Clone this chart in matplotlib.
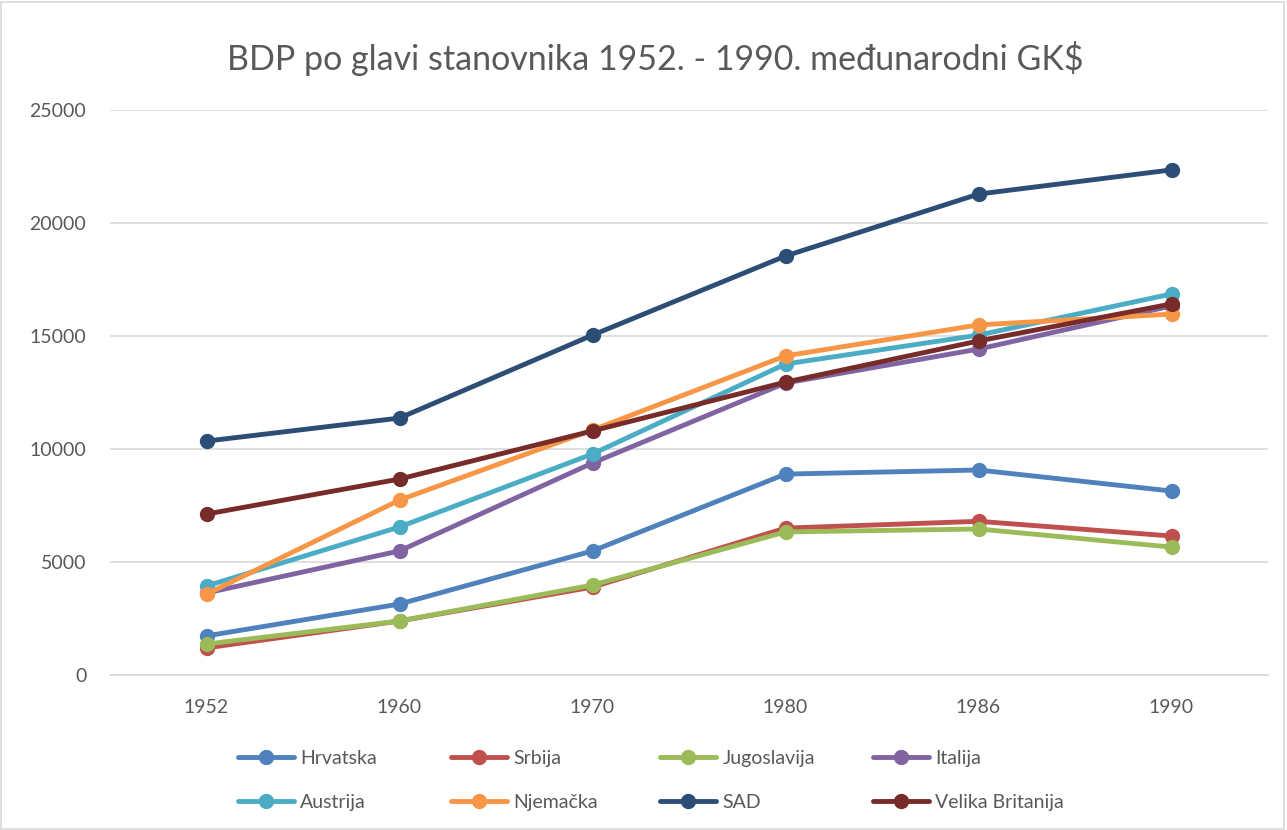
import matplotlib
matplotlib.use("Agg")
import matplotlib.pyplot as plt
from matplotlib.patches import Rectangle

years = ["1952", "1960", "1970", "1980", "1986", "1990"]
names = ["Hrvatska", "Srbija", "Jugoslavija", "Italija",
         "Austrija", "Njemačka", "SAD", "Velika Britanija"]
hrvatska = [1730, 3140, 5490, 8890, 9070, 8140]
srbija = [1200, 2390, 3890, 6500, 6800, 6150]
jugoslavija = [1370, 2390, 3980, 6330, 6460, 5660]
italija = [3630, 5490, 9380, 12920, 14420, 16330]
austrija = [3940, 6550, 9780, 13760, 15040, 16860]
njemacka = [3580, 7740, 10840, 14120, 15490, 15970]
sad = [10350, 11370, 15040, 18540, 21280, 22350]
vb = [7120, 8670, 10800, 12960, 14780, 16420]
series = [hrvatska, srbija, jugoslavija, italija, austrija, njemacka, sad, vb]
colors = ["#4F81BD", "#C0504D", "#9BBB59", "#8064A2",
          "#4BACC6", "#F79646", "#2C4D75", "#772C2A"]

plt.rcParams['font.family'] = ['Lato', 'DejaVu Sans']
W, H = 1287, 830
fig = plt.figure(figsize=(W/100, H/100), dpi=100)
ax = fig.add_axes([110/W, 1-675/H, (1268-110)/W, (675-110)/H])

x = list(range(len(years)))
handles = []
for name, vals, c in zip(names, series, colors):
    h, = ax.plot(x, vals, color=c, lw=3.5, marker='o', markersize=10,
                 solid_capstyle='round', label=name)
    handles.append(h)

ax.set_xlim(-0.5, len(years) - 0.5)
ax.set_ylim(0, 25000)
ax.set_yticks(range(0, 25001, 5000))
ax.set_xticks(x)
ax.set_xticklabels(years)
ax.yaxis.grid(True, color="#D9D9D9", lw=1.2)
ax.set_axisbelow(True)
for s in ["top", "right", "left"]:
    ax.spines[s].set_visible(False)
ax.spines["bottom"].set_color("#D9D9D9")
ax.spines["bottom"].set_linewidth(1.2)
ax.tick_params(axis='both', length=0, colors="#595959", labelsize=14)
ax.tick_params(axis='x', pad=17)
ax.tick_params(axis='y', pad=17)

fig.text(655/W, 1-58/H, "BDP po glavi stanovnika 1952. - 1990. međunarodni GK$",
         ha='center', va='center', fontsize=24.5, color="#595959")

col_x = [238, 451, 660, 873]
for i, cx in enumerate(col_x):
    hs = [handles[i], handles[i + 4]]
    fig.legend(handles=hs, loc='center left',
               bbox_to_anchor=(cx/W, 1-780.5/H), frameon=False,
               fontsize=14, labelcolor="#595959", handlelength=2.9,
               handletextpad=0.3, labelspacing=1.4,
               borderpad=0, borderaxespad=0)

fig.patches.append(Rectangle((0.001, 0.001), 0.997, 0.997, transform=fig.transFigure,
                             fill=False, edgecolor="#D9D9D9", lw=1.2))

fig.savefig("out.png", dpi=100)
